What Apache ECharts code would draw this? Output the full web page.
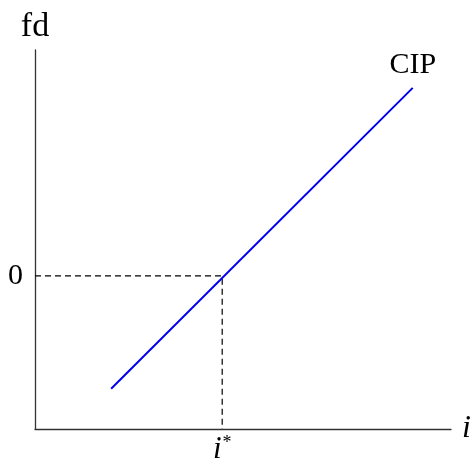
<!DOCTYPE html>
<html>
<head>
<meta charset="utf-8">
<script src="https://cdn.jsdelivr.net/npm/echarts@6/dist/echarts.min.js"></script>
<style>
  html, body { margin: 0; padding: 0; background: #fff; }
  #chart { width: 473px; height: 459px; }
</style>
</head>
<body>
<div id="chart"></div>
<script>
// schematic values (arbitrary units on 0..10 axes)
const iStar = 4.5
const fdZero = 4.04
const cipLine = [[1.83, 1.06], [9.08, 9.0]]
const guideLine = [[0, fdZero], [iStar, fdZero], [iStar, 0]]

const FONT = 'Liberation Serif'

const chart = echarts.init(document.getElementById('chart'))

chart.setOption({
  animation: false,
  grid: { left: 35, right: 22, top: 50, bottom: 30, outerBoundsMode: 'none' },
  xAxis: {
    type: 'value',
    min: 0,
    max: 10,
    splitLine: { show: false },
    axisTick: { show: false },
    axisLine: { lineStyle: { color: '#333', width: 1.3 } },
    axisLabel: {
      customValues: [iStar],
      margin: 5,
      formatter: () => '{i|i}{s|*}',
      rich: {
        i: { fontFamily: FONT, fontStyle: 'italic', fontSize: 31, color: '#000' },
        s: { fontFamily: FONT, fontSize: 18, color: '#000', verticalAlign: 'top', padding: [0, 0, 10, 1] }
      }
    },
    name: 'i',
    nameLocation: 'end',
    nameGap: 11,
    nameTextStyle: { fontFamily: FONT, fontStyle: 'italic', fontSize: 32, color: '#000', verticalAlign: 'middle' }
  },
  yAxis: {
    type: 'value',
    min: 0,
    max: 10,
    splitLine: { show: false },
    axisTick: { show: false },
    axisLine: { lineStyle: { color: '#333', width: 1.3 } },
    axisLabel: {
      customValues: [fdZero],
      margin: 12,
      formatter: () => '0',
      fontFamily: FONT,
      fontSize: 30,
      color: '#000'
    },
    name: 'fd',
    nameLocation: 'end',
    nameGap: 6,
    nameTextStyle: { fontFamily: FONT, fontSize: 34, color: '#000', align: 'center' }
  },
  series: [
    {
      type: 'line',
      data: guideLine,
      symbol: 'none',
      lineStyle: { color: '#000', width: 1.2, type: [6, 4] },
      silent: true
    },
    {
      type: 'line',
      data: cipLine,
      symbol: 'none',
      lineStyle: { color: '#0000ee', width: 2 },
      endLabel: {
        show: true,
        formatter: 'CIP',
        fontFamily: FONT,
        fontSize: 30,
        color: '#000',
        align: 'center',
        verticalAlign: 'bottom',
        offset: [-8, -8]
      },
      silent: true
    }
  ]
})
</script>
</body>
</html>
